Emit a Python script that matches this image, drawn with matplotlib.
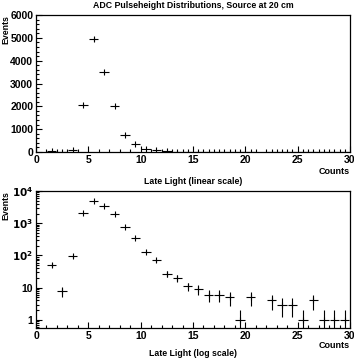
import numpy as np
import matplotlib
matplotlib.use("Agg")
import matplotlib.pyplot as plt
from matplotlib.ticker import MultipleLocator, FixedLocator, FixedFormatter, LogLocator, NullFormatter

# bin centres and contents
bin_centres = [1.5, 2.5, 3.5, 4.5, 5.5, 6.5, 7.5, 8.5, 9.5, 10.5, 11.5, 12.5, 13.5,
               14.5, 15.5, 16.5, 17.5, 18.5, 19.5, 20.5, 22.5, 23.5, 24.5, 25.5,
               26.5, 27.5, 28.5, 29.5]
events = [50, 8, 95, 2050, 4950, 3500, 2000, 750, 350, 130, 70, 27, 20,
          11, 9, 6, 6, 5, 1, 5, 4, 3, 3, 1,
          4, 1, 1, 1]

x = np.array(bin_centres)
n = np.array(events, dtype=float)
err = np.sqrt(n)

plt.rcParams['font.family'] = ['Liberation Sans', 'DejaVu Sans']
plt.rcParams['font.weight'] = 'bold'

fig = plt.figure(figsize=(3.54, 3.60), dpi=100)
W, H = 354.0, 360.0
ax1 = fig.add_axes([36/W, 1-152/H, (350-36)/W, (152-15)/H])
ax2 = fig.add_axes([36/W, 1-328/H, (350-36)/W, (328-191)/H])


def style(ax, counts_y):
    ax.set_xlim(0, 30)
    ax.xaxis.set_major_locator(MultipleLocator(5))
    ax.xaxis.set_minor_locator(MultipleLocator(1))
    ax.tick_params(which='both', direction='in', top=False, right=False,
                   labelsize=7.5, width=0.8, pad=2)
    ax.tick_params(which='major', length=4)
    ax.tick_params(which='minor', length=2)
    for s in ax.spines.values():
        s.set_linewidth(0.9)
    ax.text(1.0, counts_y, 'Counts', transform=ax.transAxes, ha='right', va='center',
            fontsize=6.5, fontweight='bold')
    ax.text(-0.095, 1.0, 'Events', transform=ax.transAxes, ha='center', va='top',
            rotation=90, fontsize=6.3, fontweight='bold')


def draw(ax, lower):
    ax.errorbar(x, n, yerr=[lower, err], xerr=0.45, fmt='none', ecolor='black',
                elinewidth=0.8)
    ax.plot(x, n, linestyle='None', marker='|', markersize=5, color='black',
            markeredgewidth=0.8)


# linear panel
draw(ax1, err)
ax1.set_ylim(0, 6000)
ax1.yaxis.set_major_locator(MultipleLocator(1000))
ax1.yaxis.set_minor_locator(MultipleLocator(200))
style(ax1, -0.145)
ax1.set_title('ADC Pulseheight Distributions, Source at 20 cm', fontsize=6.3,
              fontweight='bold', pad=5)
ax1.text(0.5, -0.215, 'Late Light (linear scale)', transform=ax1.transAxes,
         ha='center', va='center', fontsize=6.3, fontweight='bold')

# log panel
ymin = 0.56
lo = np.minimum(err, n - ymin)
draw(ax2, lo)
ax2.set_yscale('log')
ax2.set_ylim(ymin, 1e4)
ax2.yaxis.set_major_locator(FixedLocator([1, 10, 100, 1000, 10000]))
ax2.yaxis.set_major_formatter(FixedFormatter(['1', '10', r'$\mathbf{10^2}$',
                                              r'$\mathbf{10^3}$', r'$\mathbf{10^4}$']))
ax2.yaxis.set_minor_locator(LogLocator(base=10, subs=np.arange(2, 10)))
ax2.yaxis.set_minor_formatter(NullFormatter())
style(ax2, -0.125)
ax2.text(0.5, -0.185, 'Late Light (log scale)', transform=ax2.transAxes,
         ha='center', va='center', fontsize=6.3, fontweight='bold')

fig.savefig('out.png', dpi=100)
